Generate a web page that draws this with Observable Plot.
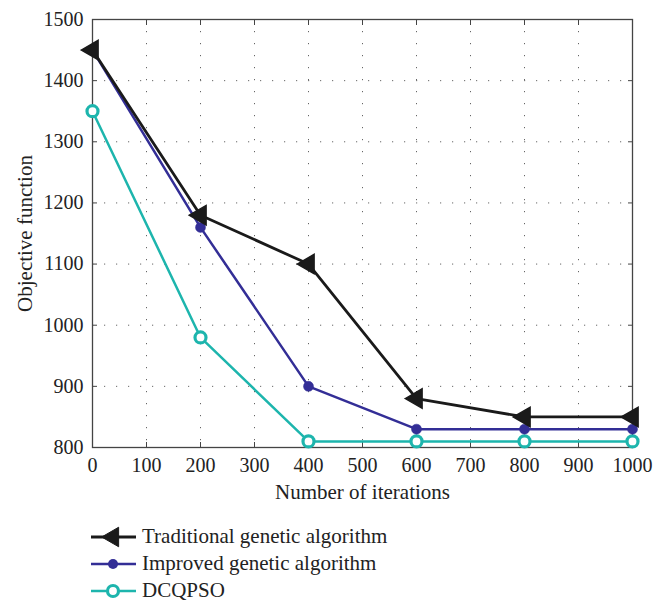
<!DOCTYPE html>
<html>
<head>
<meta charset="utf-8">
<script src="https://cdn.jsdelivr.net/npm/d3@7"></script>
<script src="https://cdn.jsdelivr.net/npm/@observablehq/plot@0.6"></script>
<style>
  body { margin: 0; background: #fff; font-family: "Liberation Serif", "DejaVu Serif", serif; }
  #legend { margin-left: 90px; margin-top: 18px; font-size: 21px; color: #222; }
  .item { display: flex; align-items: center; height: 27px; }
  .item svg { margin-right: 5px; }
</style>
</head>
<body>
<div id="chart"></div>
<div id="legend"></div>
<script>
const iterations = [0, 200, 400, 600, 800, 1000];
const traditional = [1450, 1180, 1100, 880, 850, 850];
const improved = [1450, 1160, 900, 830, 830, 830];
const dcqpso = [1350, 980, 810, 810, 810, 810];
const seriesNames = ["Traditional genetic algorithm", "Improved genetic algorithm", "DCQPSO"];
const xTicks = [0, 100, 200, 300, 400, 500, 600, 700, 800, 900, 1000];
const yTicks = [800, 900, 1000, 1100, 1200, 1300, 1400, 1500];

const colors = ["#1a1a1a", "#332e96", "#1db5ad"];
const rows = (vals) => iterations.map((x, i) => ({x, y: vals[i]}));
const tData = rows(traditional), iData = rows(improved), dData = rows(dcqpso);

const chart = Plot.plot({
  width: 653,
  height: 505,
  marginLeft: 92,
  marginRight: 21,
  marginTop: 19,
  marginBottom: 58,
  style: {fontFamily: "Liberation Serif, DejaVu Serif, serif", fontSize: "20px", color: "#222", background: "#fff"},
  x: {domain: [0, 1000]},
  y: {domain: [800, 1500]},
  marks: [
    Plot.gridX(xTicks, {stroke: "#555", strokeOpacity: 0.9, strokeDasharray: "1.2,10.8"}),
    Plot.gridY(yTicks, {stroke: "#555", strokeOpacity: 0.9, strokeDasharray: "1.2,10.8"}),
    Plot.axisX(xTicks, {anchor: "bottom", tickSize: -5, tickPadding: 15, tickFormat: d => String(d), label: null, stroke: "#444", fontSize: 20}),
    Plot.axisX({anchor: "bottom", ticks: [], label: "Number of iterations", labelAnchor: "center", labelOffset: 51, labelArrow: "none", fontSize: 21}),
    Plot.axisX(xTicks, {anchor: "top", tickSize: -5, tickFormat: () => "", label: null, stroke: "#444"}),
    Plot.axisY(yTicks, {anchor: "left", tickSize: -5, tickPadding: 14, tickFormat: d => String(d), label: null, stroke: "#444", fontSize: 20}),
    Plot.axisY({anchor: "left", ticks: [], label: "Objective function", labelAnchor: "center", labelOffset: 75, labelArrow: "none", fontSize: 21}),
    Plot.axisY(yTicks, {anchor: "right", tickSize: -5, tickFormat: () => "", label: null, stroke: "#444"}),
    Plot.frame({stroke: "#444", strokeWidth: 1.3}),
    Plot.line(dData, {x: "x", y: "y", stroke: colors[2], strokeWidth: 2.5}),
    Plot.dot(dData, {x: "x", y: "y", r: 5.5, stroke: colors[2], strokeWidth: 3.2, fill: "#fff"}),
    Plot.line(iData, {x: "x", y: "y", stroke: colors[1], strokeWidth: 2.5}),
    Plot.dot(iData, {x: "x", y: "y", r: 5, fill: colors[1], stroke: colors[1], strokeWidth: 0.5}),
    Plot.line(tData, {x: "x", y: "y", stroke: colors[0], strokeWidth: 2.8}),
    Plot.dot(tData, {x: "x", y: "y", symbol: "triangle", r: 7.2, rotate: -90, fill: colors[0], stroke: colors[0]})
  ]
});
document.getElementById("chart").appendChild(chart);

// legend
const legend = d3.select("#legend");
seriesNames.forEach((name, i) => {
  const item = legend.append("div").attr("class", "item");
  const svg = item.append("svg").attr("width", 47).attr("height", 22);
  svg.append("line").attr("x1", 1).attr("x2", 46).attr("y1", 11).attr("y2", 11)
    .attr("stroke", colors[i]).attr("stroke-width", i === 0 ? 2.8 : 2.5);
  if (i === 0) {
    svg.append("path").attr("d", d3.symbol(d3.symbolTriangle, 165)()).attr("transform", "translate(23,11) rotate(-90)").attr("fill", colors[0]).attr("stroke", colors[0]);
  } else if (i === 1) {
    svg.append("circle").attr("cx", 23).attr("cy", 11).attr("r", 5).attr("fill", colors[1]);
  } else {
    svg.append("circle").attr("cx", 23).attr("cy", 11).attr("r", 5.5).attr("fill", "#fff").attr("stroke", colors[2]).attr("stroke-width", 3.2);
  }
  item.append("span").text(name);
});
</script>
</body>
</html>
